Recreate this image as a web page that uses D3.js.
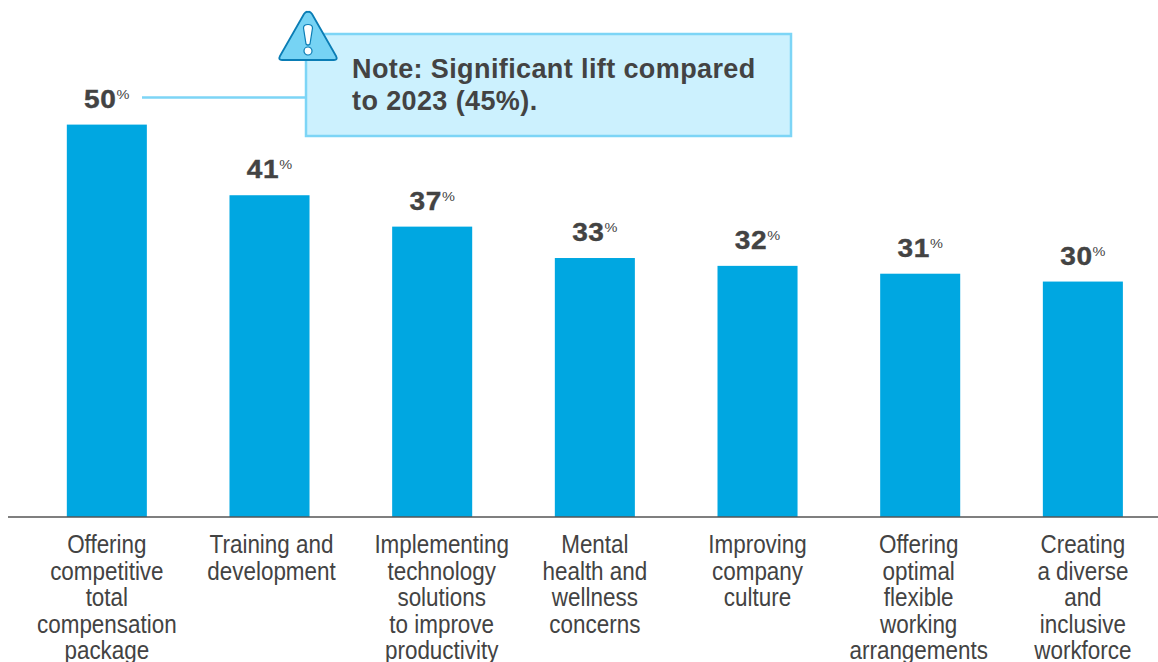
<!DOCTYPE html>
<html>
<head>
<meta charset="utf-8">
<script src="https://d3js.org/d3.v7.min.js"></script>
<title>Bar chart with note</title>
<style>
html, body { margin: 0; padding: 0; background: #fff; overflow: hidden; }
svg { display: block; }
</style>
</head>
<body>
<div id="chart"></div>
<script>
var categories = ["offer", "training", "tech", "mental", "culture", "flexible", "diverse"];
var values = [50, 41, 37, 33, 32, 31, 30];
var tickLines = [
  ["Offering", "competitive", "total", "compensation", "package"],
  ["Training and", "development"],
  ["Implementing", "technology", "solutions", "to improve", "productivity"],
  ["Mental", "health and", "wellness", "concerns"],
  ["Improving", "company", "culture"],
  ["Offering", "optimal", "flexible", "working", "arrangements"],
  ["Creating", "a diverse", "and", "inclusive", "workforce"]
];
var noteLines = ["Note: Significant lift compared", "to 2023 (45%)."];

var w = 1158, h = 662;
var baseY = 517;
var ink = "#434343", barColor = "#00a7e1", lineColor = "#7dd5f6", noteFill = "#ccf1fe";
// the labels don't sit exactly under their bars in the original
var tickNudge = [0, 2, 9.5, 0, 0, -1.5, 0];

var svg = d3.select("#chart").append("svg")
    .attr("width", w)
    .attr("height", h);

var x = d3.scaleBand()
    .domain(categories)
    .range([25.5, 1164.2])
    .paddingInner(0.508)
    .paddingOuter(0.254);

var y = d3.scaleLinear()
    .domain([0, 50])
    .range([baseY, 124.6]);

svg.selectAll("rect.bar")
   .data(values)
   .enter()
     .append("rect")
     .attr("class", "bar")
     .attr("x", function(d, i) { return x(categories[i]); })
     .attr("y", function(d) { return y(d); })
     .attr("width", x.bandwidth())
     .attr("height", function(d) { return y(0) - y(d); })
     .attr("fill", barColor);

// baseline and category labels
var axis = svg.append("g")
    .attr("transform", "translate(0," + baseY + ")")
    .call(d3.axisBottom(x).tickSize(0).tickPadding(0));

axis.select(".domain").remove();
axis.append("line")
    .attr("x1", 8).attr("x2", w)
    .attr("stroke", "#555").attr("stroke-width", 1.3);

axis.selectAll(".tick text").each(function(d, i) {
  var t = d3.select(this).text(null)
      .attr("y", 0).attr("dy", null)
      .attr("fill", ink)
      .attr("transform", "translate(" + tickNudge[i] + ",0) scale(0.88,1)")
      .style("font-family", "'Liberation Sans', sans-serif")
      .style("font-size", "25.5px");
  tickLines[i].forEach(function(s, j) {
    t.append("tspan").attr("x", 0).attr("y", 36.4 + j * 26.5).text(s);
  });
});

// value labels
var labels = svg.selectAll("text.value")
    .data(values)
    .enter()
      .append("text")
      .attr("class", "value")
      .attr("transform", function(d, i) {
        return "translate(" + (x(categories[i]) + x.bandwidth() / 2) + "," + (y(d) - 17) + ") scale(1.12,1)";
      })
      .attr("text-anchor", "middle")
      .attr("fill", ink)
      .attr("stroke", ink)
      .attr("stroke-width", 0.4)
      .style("font-family", "'Liberation Sans', sans-serif")
      .style("font-weight", "bold")
      .style("font-size", "25px")
      .style("letter-spacing", "0.6px");
labels.append("tspan").text(function(d) { return d; });
labels.append("tspan")
    .attr("dy", -9)
    .attr("stroke", "none")
    .style("font-size", "13px")
    .style("font-weight", "normal")
    .style("letter-spacing", "0")
    .text("%");

// note callout
svg.append("line")
    .attr("x1", 142).attr("x2", 306)
    .attr("y1", 97.5).attr("y2", 97.5)
    .attr("stroke", lineColor).attr("stroke-width", 2.5);

svg.append("rect")
    .attr("x", 306).attr("y", 34)
    .attr("width", 485).attr("height", 102)
    .attr("fill", noteFill)
    .attr("stroke", lineColor).attr("stroke-width", 2.5);

svg.selectAll("text.note")
    .data(noteLines)
    .enter()
      .append("text")
      .attr("class", "note")
      .attr("x", 352)
      .attr("y", function(d, i) { return 78 + i * 32; })
      .attr("fill", ink)
      .style("font-family", "'Liberation Sans', sans-serif")
      .style("font-weight", "bold")
      .style("font-size", "27px")
      .style("letter-spacing", "0.39px")
      .text(function(d) { return d; });

// warning icon
var icon = svg.append("g").attr("transform", "translate(308,0)");
icon.append("path")
    .attr("d", "M0,12 Q-2,11 -4,14 L-28,56 Q-30,60 -26,60 L26,60 Q30,60 28,56 L4,14 Q2,11 0,12 Z")
    .attr("fill", "#76d3f4")
    .attr("stroke", "#0a7db5")
    .attr("stroke-width", 1.8)
    .attr("stroke-linejoin", "round");
icon.append("path")
    .attr("d", "M-4.5,28 Q-4.5,24.5 0,24.5 Q4.5,24.5 4.5,28 L2,44 Q0,46 -2,44 Z")
    .attr("fill", "#fff")
    .attr("stroke", "#0a7db5")
    .attr("stroke-width", 1.2);
icon.append("circle")
    .attr("cx", 0).attr("cy", 51).attr("r", 4)
    .attr("fill", "#fff")
    .attr("stroke", "#0a7db5")
    .attr("stroke-width", 1.2);
</script>
</body>
</html>
